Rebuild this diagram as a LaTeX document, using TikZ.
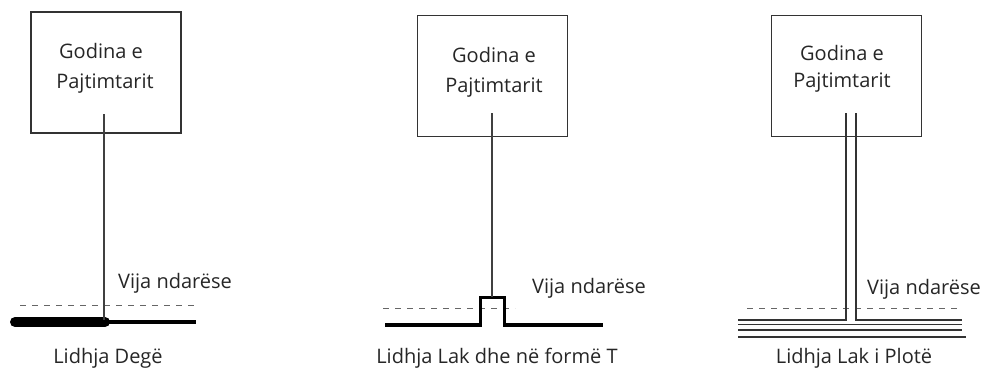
\documentclass[tikz,border=0pt]{standalone}
\usepackage{fontspec}
\setmainfont{Open Sans}
\begin{document}
\begin{tikzpicture}[x=1pt,y=-1pt,
  box/.style={draw=black!80, line width=1.4pt, minimum width=150pt, minimum height=121pt, inner sep=0},
  lbl/.style={font=\fontsize{20}{24}\selectfont, text=black!85, inner sep=0},
  wire/.style={draw=black!75, line width=1.3pt},
  divider/.style={draw=black!60, line width=1pt, dash pattern=on 6pt off 6pt},
  mainline/.style={draw=black, line width=3.8pt},
  ring/.style={draw=black!80, line width=1.5pt}]
\useasboundingbox (0,0) rectangle (988,370);

% ---------- Panel 1 ----------
\node[box] (b1) at (106,72.5) {};
\node[lbl] (g1) at (101,51) {Godina e};
\node[lbl] (p1) at (105,84) {Pajtimtarit};
\draw[divider] (20,305) -- (195,305);
\coordinate (s1) at (104,114);
\coordinate (j1) at (104,320);
\coordinate (m1a) at (15,322);
\coordinate (m1b) at (105,322);
\coordinate (m1c) at (196,322);
\draw[mainline] (m1b) -- (m1c);
\draw[line width=10pt, line cap=round] (m1a) -- (m1b);
\draw[wire] (s1) -- (j1);
\node[lbl, anchor=west] (v1) at (118,283) {Vija ndarëse};
\node[lbl] (l1) at (108,358) {Lidhja Degë};

% ---------- Panel 2 ----------
\node[box] (b2) at (492.5,76) {};
\node[lbl] (g2) at (494,55) {Godina e};
\node[lbl] (p2) at (494,88) {Pajtimtarit};
\draw[divider] (383,308) -- (515,308);
\coordinate (s2) at (492,113);
\coordinate (t2) at (492,297);
\draw[mainline] (385,325) -- (480.5,325) -- (480.5,297.5) -- (504.5,297.5) -- (504.5,325) -- (603,325);
\draw[wire] (s2) -- (t2);
\node[lbl, anchor=west] (v2) at (532,288) {Vija ndarëse};
\node[lbl] (l2) at (497,358) {Lidhja Lak dhe në formë T};

% ---------- Panel 3 ----------
\node[box] (b3) at (846.5,76) {};
\node[lbl] (g3) at (842,53) {Godina e};
\node[lbl] (p3) at (842,83) {Pajtimtarit};
\draw[divider] (747,308) -- (960,308);
\coordinate (s3a) at (846,113);
\coordinate (s3b) at (856,113);
\coordinate (e3a) at (738,320);
\coordinate (e3b) at (962,320);
\draw[ring] (s3a) -- (846,320) -- (e3a);
\draw[ring] (s3b) -- (856,320) -- (e3b);
\draw[ring] (738,324.5) -- (962,324.5);
\draw[ring] (738,330) -- (962,330);
\draw[ring] (738,337) -- (966,337);
\node[lbl, anchor=west] (v3) at (867,289) {Vija ndarëse};
\node[lbl] (l3) at (854,358) {Lidhja Lak i Plotë};
\end{tikzpicture}
\end{document}
